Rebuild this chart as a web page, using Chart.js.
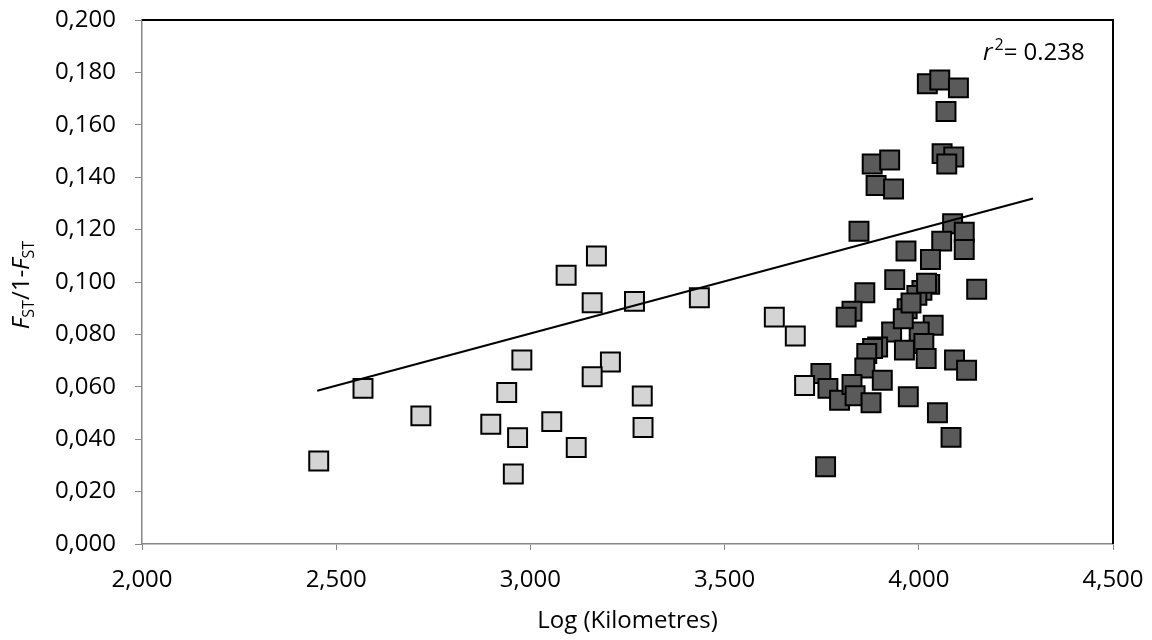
<!DOCTYPE html>
<html>
<head>
<meta charset="utf-8">
<script src="https://cdn.jsdelivr.net/npm/chart.js@4.4.1/dist/chart.umd.min.js"></script>
<style>
  html, body { margin: 0; padding: 0; background: #ffffff; }
  #wrap { width: 1152px; height: 640px; }
</style>
</head>
<body>
<div id="wrap"><canvas id="chart" width="1152" height="640"></canvas></div>
<script>
// Light grey squares (Log km, Fst/1-Fst)
const lightX = [2.455, 2.569, 2.718, 2.898, 2.939, 2.967, 2.956, 2.978, 3.055, 3.118, 3.092,
                3.170, 3.159, 3.268, 3.435, 3.206, 3.159, 3.288, 3.290, 3.628, 3.682, 3.706];
const lightY = [0.0317, 0.0594, 0.0489, 0.0457, 0.0578, 0.0406, 0.0267, 0.0702, 0.0467, 0.0368, 0.1026,
                0.1099, 0.0921, 0.0926, 0.0940, 0.0695, 0.0638, 0.0565, 0.0445, 0.0866, 0.0794, 0.0605];

// Dark grey squares
const darkX = [4.022, 4.054, 4.102, 4.070, 3.880, 3.925, 3.890, 3.935, 4.060, 4.090, 4.072,
               3.846, 4.087, 4.117, 4.059, 4.117, 3.967, 4.030, 3.938, 4.149, 4.028, 4.008,
               3.995, 3.861, 3.828, 3.813, 3.970, 4.037, 3.930, 4.001, 4.013, 3.963, 4.019,
               3.894, 3.881, 3.866, 3.861, 4.092, 4.123, 3.748, 3.766, 3.796, 3.828, 3.836,
               3.906, 3.877, 3.973, 4.048, 4.083, 3.760, 3.960, 3.980, 4.020];
const darkY = [0.1757, 0.1771, 0.1741, 0.1651, 0.1450, 0.1466, 0.1368, 0.1355, 0.1490, 0.1477, 0.1450,
               0.1194, 0.1222, 0.1190, 0.1156, 0.1124, 0.1118, 0.1086, 0.1009, 0.0972, 0.0991, 0.0968,
               0.0949, 0.0959, 0.0888, 0.0866, 0.0898, 0.0835, 0.0809, 0.0809, 0.0765, 0.0740, 0.0708,
               0.0752, 0.0746, 0.0727, 0.0672, 0.0702, 0.0663, 0.0651, 0.0594, 0.0549, 0.0609, 0.0566,
               0.0625, 0.0539, 0.0562, 0.0501, 0.0407, 0.0295, 0.0860, 0.0920, 0.0995];

// Trend line end points
const trendX = [2.451, 4.294];
const trendY = [0.0585, 0.1319];

const rSquared = "0.238";
const xTitle = "Log (Kilometres)";

const FONT = "'Open Sans', 'Liberation Sans', sans-serif";

function toPoints(xs, ys) {
    return xs.map(function(x, i) { return { x: x, y: ys[i] }; });
}

function commaFixed(v) {
    return Number(v).toFixed(3).replace(".", ",");
}

// Border on top/right, y title with subscripts, r-squared label
const extras = {
    id: "extras",
    afterDraw: function(chart) {
        const ctx = chart.ctx;
        const a = chart.chartArea;
        ctx.save();
        ctx.strokeStyle = "#000000";
        ctx.lineWidth = 2;
        ctx.beginPath();
        ctx.moveTo(a.left, a.top);
        ctx.lineTo(a.right, a.top);
        ctx.lineTo(a.right, a.bottom);
        ctx.stroke();

        // y axis title: F_ST/1-F_ST
        const big = "24px " + FONT;
        const bigIt = "italic 24px " + FONT;
        const small = "16px " + FONT;
        const parts = [
            { t: "F", f: bigIt, dy: 0 },
            { t: "ST", f: small, dy: 5 },
            { t: "/1-", f: big, dy: 0 },
            { t: "F", f: bigIt, dy: 0 },
            { t: "ST", f: small, dy: 5 }
        ];
        let total = 0;
        parts.forEach(function(p) { ctx.font = p.f; p.w = ctx.measureText(p.t).width; total += p.w; });
        ctx.fillStyle = "#000000";
        ctx.textBaseline = "alphabetic";
        ctx.textAlign = "left";
        ctx.translate(29, 285);
        ctx.rotate(-Math.PI / 2);
        let px = -total / 2;
        parts.forEach(function(p) {
            ctx.font = p.f;
            ctx.fillText(p.t, px, p.dy);
            px += p.w;
        });
        ctx.setTransform(1, 0, 0, 1, 0, 0);

        // r^2 label
        let rx = 983;
        const ry = 60;
        ctx.font = bigIt;
        ctx.fillText("r", rx, ry);
        rx += ctx.measureText("r").width + 2;
        ctx.font = small;
        ctx.fillText("2", rx, ry - 10);
        rx += ctx.measureText("2").width;
        ctx.font = big;
        ctx.fillText("= " + rSquared, rx, ry);
        ctx.restore();
    }
};

const ctx = document.getElementById("chart").getContext("2d");
new Chart(ctx, {
    type: "scatter",
    data: {
        datasets: [
            {
                type: "line",
                data: toPoints(trendX, trendY),
                borderColor: "#000000",
                borderWidth: 2,
                pointRadius: 0,
                fill: false,
                order: 0
            },
            {
                data: toPoints(lightX, lightY),
                pointStyle: "rect",
                pointRadius: 13.4,
                backgroundColor: "#d4d4d4",
                borderColor: "#000000",
                borderWidth: 2,
                order: 1
            },
            {
                data: toPoints(darkX, darkY),
                pointStyle: "rect",
                pointRadius: 13.4,
                backgroundColor: "#5a5a5a",
                borderColor: "#000000",
                borderWidth: 2,
                order: 2
            }
        ]
    },
    options: {
        responsive: false,
        animation: false,
        layout: { padding: { top: 20, right: 39, left: 0, bottom: 0 }, autoPadding: false },
        plugins: { legend: { display: false }, tooltip: { enabled: false } },
        scales: {
            x: {
                type: "linear",
                min: 2,
                max: 4.5,
                afterFit: function(scale) {
                    scale.height = 96;
                    scale.paddingLeft = 0;
                    scale.paddingRight = 0;
                },
                ticks: {
                    stepSize: 0.5,
                    color: "#000000",
                    padding: 16,
                    font: { family: FONT, size: 24 },
                    callback: function(v) { return commaFixed(v); }
                },
                grid: { drawOnChartArea: false, drawTicks: true, tickLength: 6, color: "#888888" },
                border: { color: "#888888", width: 1.5 },
                title: {
                    display: true,
                    text: xTitle,
                    color: "#000000",
                    font: { family: FONT, size: 24 },
                    padding: { top: 0, bottom: 4 }
                }
            },
            y: {
                type: "linear",
                min: 0,
                max: 0.2,
                afterFit: function(scale) {
                    scale.width = 142;
                    scale.paddingTop = 0;
                    scale.paddingBottom = 0;
                },
                ticks: {
                    stepSize: 0.02,
                    color: "#000000",
                    padding: 19,
                    font: { family: FONT, size: 24 },
                    callback: function(v) { return commaFixed(v); }
                },
                grid: { drawOnChartArea: false, drawTicks: true, tickLength: 7, color: "#888888" },
                border: { color: "#888888", width: 1.5 }
            }
        }
    },
    plugins: [extras]
});
</script>
</body>
</html>
